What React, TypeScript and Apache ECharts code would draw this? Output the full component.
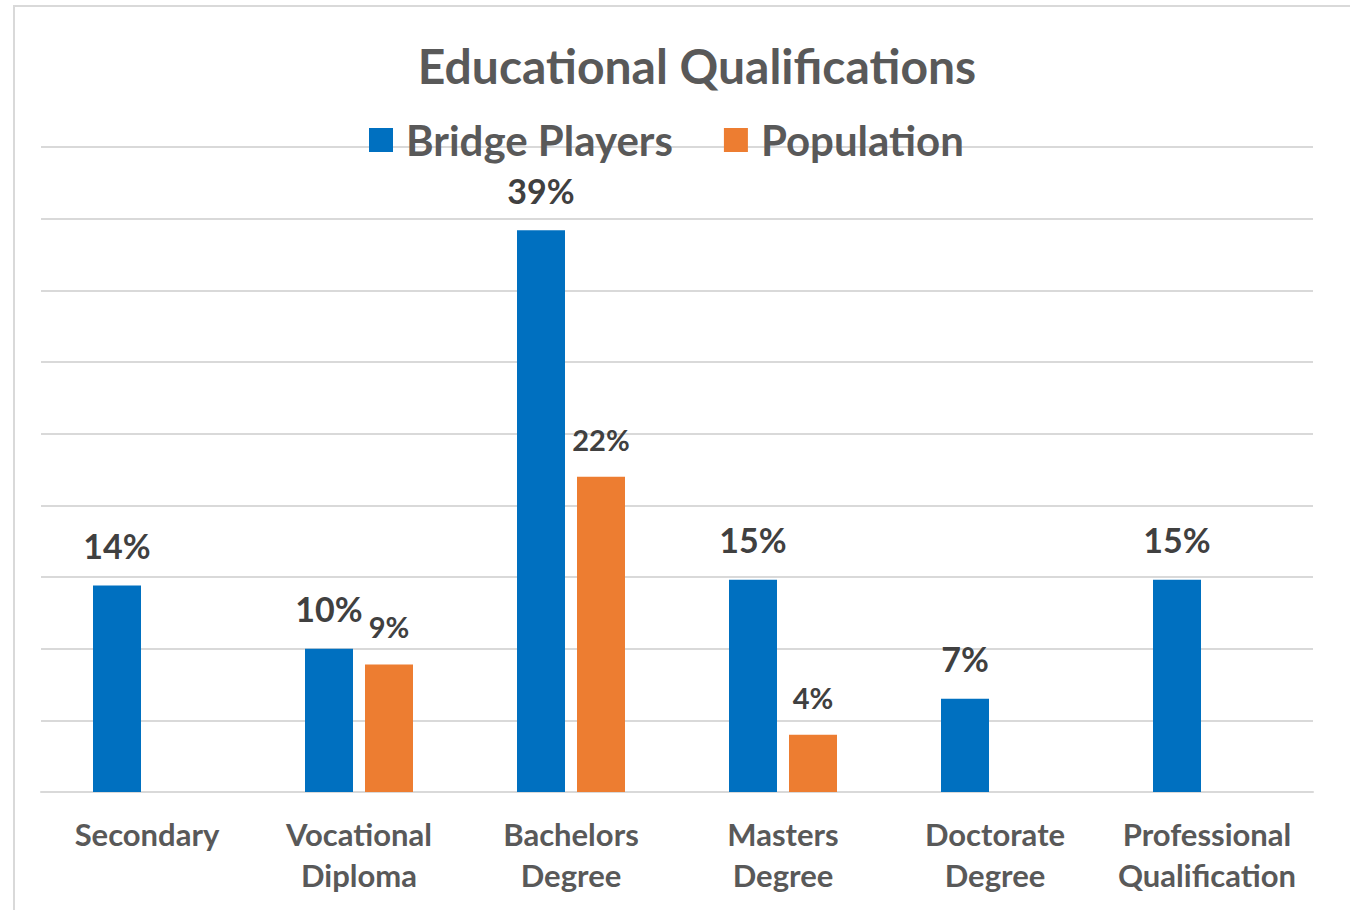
import React, { useEffect, useRef } from "react";
import * as echarts from "echarts";

const categories = [
  "Secondary",
  "Vocational\nDiploma",
  "Bachelors\nDegree",
  "Masters\nDegree",
  "Doctorate\nDegree",
  "Professional\nQualification",
];
const bridgePlayers = [14.4, 10.0, 39.2, 14.8, 6.5, 14.8];
const population = [null, 8.9, 22.0, 4.0, null, null];
const seriesNames = ["Bridge Players", "Population"];
const titleText = "Educational Qualifications";

const FONT = "Lato, 'Noto Sans', sans-serif";

const fmt = (p: any) => (p.value == null ? "" : Math.round(p.value) + "%");

export default function App() {
  const ref = useRef<HTMLDivElement>(null);
  useEffect(() => {
    document.body.style.margin = "0";
    const chart = echarts.init(ref.current!, undefined, { renderer: "svg" });
    chart.setOption({
      animation: false,
      backgroundColor: "#ffffff",
      graphic: [
        {
          type: "rect",
          shape: { x: 14, y: 6, width: 1400, height: 960 },
          style: { fill: "none", stroke: "#d9d9d9", lineWidth: 2 },
          silent: true,
          z: -10,
        },
      ],
      title: {
        text: titleText,
        left: 692,
        textAlign: "center",
        top: 36,
        textStyle: {
          color: "#595959",
          fontFamily: FONT,
          fontWeight: "bold",
          fontSize: 48,
          letterSpacing: 0.5,
        },
      },
      legend: {
        data: seriesNames,
        left: 369,
        top: 119,
        padding: 0,
        itemWidth: 24,
        itemHeight: 24,
        itemGap: 51,
        icon: "rect",
        textStyle: {
          color: "#595959",
          fontFamily: FONT,
          fontWeight: "bold",
          fontSize: 42,
          padding: [0, 0, 0, 8],
        },
      },
      grid: { left: 41, right: 37, top: 147, bottom: 118, containLabel: false },
      xAxis: {
        type: "category",
        data: categories,
        axisLine: { show: true, lineStyle: { color: "#d9d9d9", width: 2 } },
        axisTick: { show: false },
        axisLabel: {
          color: "#595959",
          fontFamily: FONT,
          fontWeight: "bold",
          fontSize: 31,
          lineHeight: 41,
          margin: 21,
          interval: 0,
        },
      },
      yAxis: {
        type: "value",
        min: 0,
        max: 45,
        interval: 5,
        axisLabel: { show: false },
        axisLine: { show: false },
        axisTick: { show: false },
        splitLine: { lineStyle: { color: "#d9d9d9", width: 2 } },
      },
      series: [
        {
          name: seriesNames[0],
          type: "bar",
          data: bridgePlayers,
          barWidth: 48,
          barGap: "25%",
          itemStyle: { color: "#0070C0" },
          label: {
            show: true,
            position: "top",
            distance: 23,
            color: "#404040",
            fontFamily: FONT,
            fontWeight: "bold",
            fontSize: 34,
            formatter: fmt,
          },
        },
        {
          name: seriesNames[1],
          type: "bar",
          data: population,
          barWidth: 48,
          itemStyle: { color: "#ED7D31" },
          label: {
            show: true,
            position: "top",
            distance: 23,
            color: "#404040",
            fontFamily: FONT,
            fontWeight: "bold",
            fontSize: 29,
            formatter: fmt,
          },
        },
      ],
    });
    return () => chart.dispose();
  }, []);
  return <div ref={ref} style={{ width: 1350, height: 910 }} />;
}
